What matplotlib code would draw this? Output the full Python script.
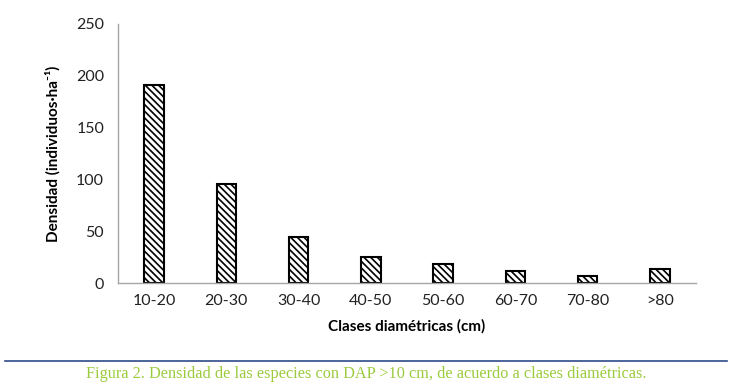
import numpy as np
import matplotlib.pyplot as plt
import matplotlib as mpl

clases = ['10-20', '20-30', '30-40', '40-50', '50-60', '60-70', '70-80', '>80']
densidad = [191, 96, 44, 25, 18, 12, 7, 14]

mpl.rcParams['hatch.linewidth'] = 1.2
plt.rcParams['font.family'] = ['Lato', 'DejaVu Sans']

fig = plt.figure(figsize=(7.33, 3.87), dpi=100)
ax = fig.add_axes([0.161, 0.2687, 0.7885, 0.6693])

x = np.arange(len(clases))
ax.bar(x, densidad, width=0.27, color='white', edgecolor='black',
       linewidth=1.5, hatch='\\\\\\\\\\')

ax.set_xlim(-0.5, len(clases) - 0.5)
ax.set_ylim(0, 250)
ax.set_yticks(range(0, 251, 50))
ax.set_xticks(x)
ax.set_xticklabels(clases)
ax.tick_params(axis='both', length=0, labelsize=11.5, colors='#222222')
ax.tick_params(axis='x', pad=8)
ax.tick_params(axis='y', pad=10)

for s in ['top', 'right']:
    ax.spines[s].set_visible(False)
for s in ['left', 'bottom']:
    ax.spines[s].set_color('#A6A6A6')
    ax.spines[s].set_linewidth(1)

ax.set_xlabel('Clases diamétricas (cm)', fontsize=11, fontweight='bold', labelpad=8)
ax.set_ylabel('Densidad (individuos·ha⁻¹)', fontsize=11, fontweight='bold', labelpad=11)

# linea y leyenda de la figura
fig.add_artist(plt.Line2D([5 / 733, 727 / 733], [1 - 361 / 387] * 2,
                          color='#2E4A87', linewidth=1.2, transform=fig.transFigure))
fig.text(0.5, 1 - 374 / 387,
         'Figura 2. Densidad de las especies con DAP >10 cm, de acuerdo a clases diamétricas.',
         ha='center', va='center', fontsize=11.7, color='#9BCB3C',
         family=['Liberation Serif', 'DejaVu Serif'])

fig.savefig('out.png', dpi=100)
